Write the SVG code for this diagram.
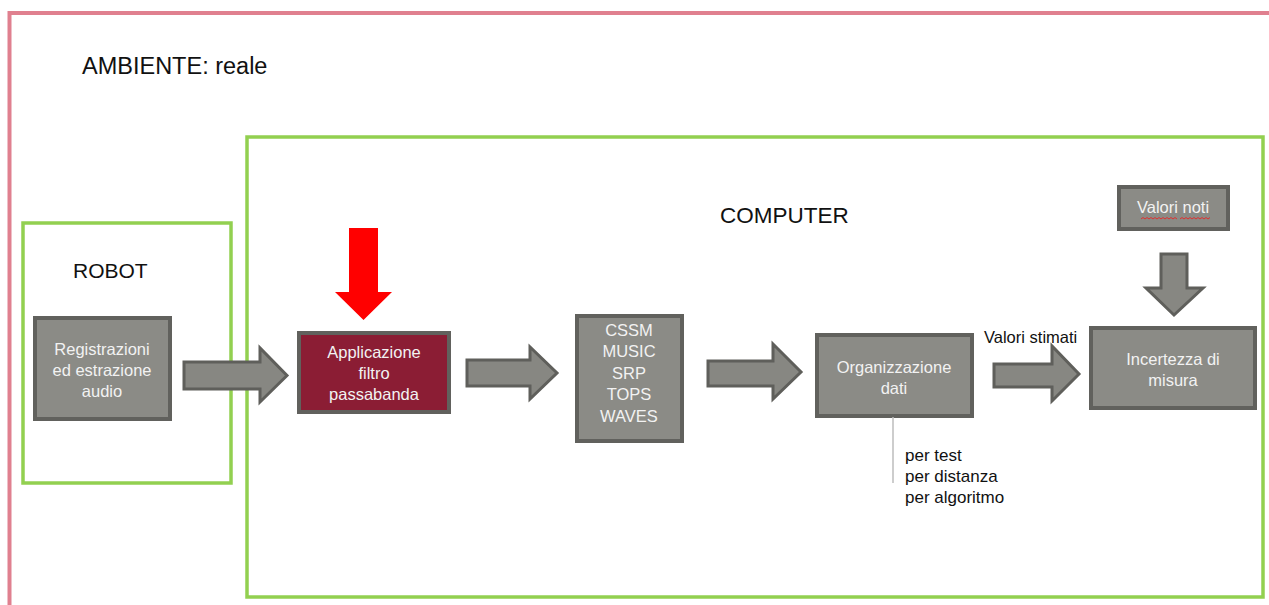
<svg xmlns="http://www.w3.org/2000/svg" width="1269" height="605" viewBox="0 0 1269 605">
<style>
.frame{fill:none;stroke:#92d050;stroke-width:3.5}
.box{fill:#8b8b86;stroke:#61615d;stroke-width:4}
.red{fill:#8b1d34;stroke:#61615d;stroke-width:4}
.arr{fill:#878782;stroke:#5f5f5b;stroke-width:3;stroke-linejoin:miter}
.bt{font-family:"Liberation Sans",Arial,sans-serif;font-size:16.5px;fill:#f2f2f2;text-anchor:middle}
.lbl{font-family:"Liberation Sans",Arial,sans-serif;fill:#111}
</style>
<rect width="1269" height="605" fill="#fff"/>
<g id="ambiente">
<path d="M9.5 605 V13 H1269" fill="none" stroke="#e0808f" stroke-width="4"/>
<text class="lbl" x="82" y="74" font-size="23.5">AMBIENTE: reale</text>
</g>
<g id="robot">
<rect class="frame" x="23" y="223" width="208" height="260"/>
<text class="lbl" x="73" y="278" font-size="21">ROBOT</text>
</g>
<g id="computer">
<rect class="frame" x="247" y="137" width="1016" height="460"/>
<text class="lbl" x="720" y="223" font-size="22.5">COMPUTER</text>
</g>
<g id="registrazioni">
<rect class="box" x="35" y="318" width="135" height="101"/>
<text class="bt" x="102" y="355">Registrazioni</text>
<text class="bt" x="102" y="376">ed estrazione</text>
<text class="bt" x="102" y="397">audio</text>
</g>
<g id="applicazione">
<rect class="red" x="299" y="333" width="150" height="79"/>
<text class="bt" x="374" y="358">Applicazione</text>
<text class="bt" x="374" y="379">filtro</text>
<text class="bt" x="374" y="400">passabanda</text>
</g>
<g id="algoritmi">
<rect class="box" x="577" y="316" width="105" height="125"/>
<text class="bt" x="629" y="336">CSSM</text>
<text class="bt" x="629" y="357">MUSIC</text>
<text class="bt" x="629" y="379">SRP</text>
<text class="bt" x="629" y="400">TOPS</text>
<text class="bt" x="629" y="422">WAVES</text>
</g>
<g id="organizzazione">
<rect class="box" x="817" y="335" width="155" height="81"/>
<text class="bt" x="894" y="373">Organizzazione</text>
<text class="bt" x="894" y="394">dati</text>
</g>
<g id="incertezza">
<rect class="box" x="1091" y="328" width="164" height="80"/>
<text class="bt" x="1173" y="365">Incertezza di</text>
<text class="bt" x="1173" y="386">misura</text>
</g>
<g id="valori-noti">
<rect class="box" x="1119" y="187" width="109" height="42"/>
<text class="bt" x="1173" y="213">Valori noti</text>
<path d="M1141 219 l2 -1.5 l2 1.5 l2 -1.5 l2 1.5 l2 -1.5 l2 1.5 l2 -1.5 l2 1.5 l2 -1.5 l2 1.5 l2 -1.5 l2 1.5 l2 -1.5 l2 1.5 l2 -1.5 l2 1.5 l2 -1.5 l2 1.5 M1180 219 l2 -1.5 l2 1.5 l2 -1.5 l2 1.5 l2 -1.5 l2 1.5 l2 -1.5 l2 1.5 l2 -1.5 l2 1.5 l2 -1.5 l2 1.5 l2 -1.5 l2 1.5 l2 -1.5" fill="none" stroke="#e03030" stroke-width="1"/>
</g>
<g id="connectors">
<path class="arr" d="M184 362 H260 V348 L287 375.5 L260 402 V389 H184 Z"/>
<path class="arr" d="M467 360 H530 V347 L557 373 L530 399 V386 H467 Z"/>
<path class="arr" d="M708 361 H773 V344 L801 372 L773 399 V386 H708 Z"/>
<path class="arr" d="M994 364 H1052 V346 L1079 374 L1052 401 V387 H994 Z"/>
<path class="arr" d="M1161 254 H1187 V288 H1203 L1174 315 L1146 288 H1161 Z"/>
<path d="M349 228 H378 V292 H392 L363.5 320 L335 292 H349 Z" fill="#ff0000"/>
<line x1="893" y1="417" x2="893" y2="483" stroke="#bdbdbd" stroke-width="1.5"/>
<text class="lbl" x="984" y="343" font-size="16.5">Valori stimati</text>
<text class="lbl" x="905" y="461" font-size="17">per test</text>
<text class="lbl" x="905" y="482" font-size="17">per distanza</text>
<text class="lbl" x="905" y="503" font-size="17">per algoritmo</text>
</g>
</svg>
